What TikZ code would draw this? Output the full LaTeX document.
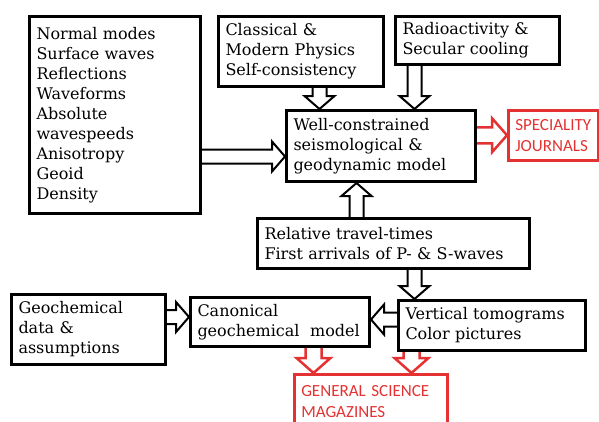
\documentclass[tikz,border=0pt]{standalone}
\usepackage{fontspec}
\setmainfont{DejaVu Serif}
\newfontfamily\redfont{Carlito}
\usetikzlibrary{calc}
\definecolor{boxred}{RGB}{228,50,50}
\begin{document}
\begin{tikzpicture}[x=1pt,y=-1pt,
    box/.style={shape=rectangle,draw=black,line width=3pt,anchor=north west,align=left,inner xsep=7pt,inner ysep=0pt,font=\fontsize{16}{20}\selectfont},
    redbox/.style={box,draw=boxred,text=boxred,line width=2.5pt,font=\redfont\fontsize{17}{21}\selectfont},
    block/.style n args={3}{to path={let \p1=(\tikztostart), \p2=(\tikztotarget) in
        ($(\p1)!#1!90:(\p2)$) -- ($($(\p2)!#3!(\p1)$)!#1!90:(\p2)$) -- ($($(\p2)!#3!(\p1)$)!#2!90:(\p2)$)
        -- (\p2) -- ($($(\p2)!#3!(\p1)$)!#2!-90:(\p2)$) -- ($($(\p2)!#3!(\p1)$)!#1!-90:(\p2)$) -- ($(\p1)!#1!-90:(\p2)$)}},
    hollow/.style={draw=black,line width=2pt,block={7pt}{15pt}{13pt}},
    redhollow/.style={draw=boxred,line width=2.5pt,block={8pt}{17pt}{15pt}}]
    \useasboundingbox (0,0) rectangle (599,421);
    \node[box,text width=157pt,minimum height=197pt] (0) at (28,15) {Normal modes\\Surface waves\\Reflections\\Waveforms\\Absolute\\wavespeeds\\Anisotropy\\Geoid\\Density};
    \node[box,text width=151pt,minimum height=70pt] (1) at (217,15) {Classical \&\\Modern Physics\\Self-consistency};
    \node[box,text width=150pt,minimum height=48pt] (2) at (394,15) {Radioactivity \&\\Secular cooling};
    \node[box,text width=175pt,minimum height=71pt] (3) at (285,109) {Well-constrained\\seismological \&\\geodynamic model};
    \node[redbox,text width=76pt,minimum height=50pt] (4) at (507,109) {SPECIALITY\\JOURNALS};
    \node[box,text width=258pt,minimum height=50pt] (5) at (256,217) {Relative travel-times\\First arrivals of P- \& S-waves};
    \node[box,text width=140pt,minimum height=70pt] (6) at (10,293) {Geochemical\\data \&\\assumptions};
    \node[box,text width=165pt,minimum height=49pt] (7) at (189,296) {Canonical\\geochemical~ model};
    \node[box,text width=173pt,minimum height=50pt] (8) at (397,299) {Vertical tomograms\\Color pictures};
    \node[redbox,text width=139pt,minimum height=54pt] (9) at (293,373) {GENERAL SCIENCE\\MAGAZINES};
    \path[hollow]([yshift=-41.5pt]0.east) edge ([yshift=-41.5pt]0.east -| 3.west);
    \path[hollow]([xshift=18.5pt]1.south) edge ([xshift=18.5pt]1.south |- 3.north);
    \path[hollow]([xshift=-63pt]2.south) edge ([xshift=-63pt]2.south |- 3.north);
    \path[hollow]([xshift=-37pt]5.north) edge ([xshift=-37pt]5.north |- 3.south);
    \path[redhollow](3.east |- 4.west) edge (4.west);
    \path[hollow]([xshift=21pt]5.south) edge ([xshift=21pt]5.south |- 8.north);
    \path[hollow]([yshift=5pt]7.west -| 6.east) edge ([yshift=5pt]7.west);
    \path[hollow]([yshift=6pt]8.west) edge ([yshift=6pt]8.west -| 7.east);
    \path[redhollow]([xshift=33.5pt]7.south) edge ([xshift=33.5pt]7.south |- 9.north);
    \path[redhollow]([xshift=-80.5pt]8.south) edge ([xshift=-80.5pt]8.south |- 9.north);
\end{tikzpicture}
\end{document}
